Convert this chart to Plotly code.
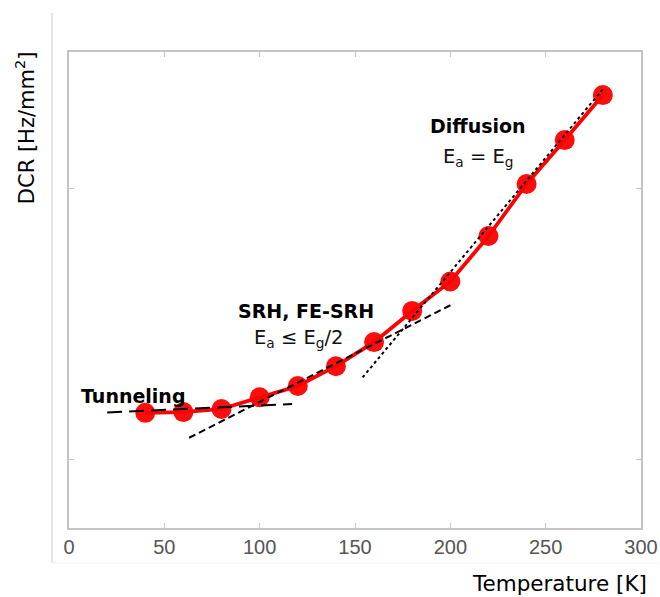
import plotly.graph_objects as go

# Data (y axis is logarithmic, unlabelled; ticks at 1 and 10)
temperature = [40, 60, 80, 100, 120, 140, 160, 180, 200, 220, 240, 260, 280]
dcr = [1.48, 1.49, 1.53, 1.69, 1.86, 2.20, 2.70, 3.52, 4.52, 6.65, 10.35, 15.03, 22.03]

tunnel_fit_x = [20, 117]
tunnel_fit_y = [1.486, 1.596]
srh_fit_x = [63, 202]
srh_fit_y = [1.198, 3.753]
diff_fit_x = [154, 280.5]
diff_fit_y = [2.002, 23.39]

x_ticks = [0, 50, 100, 150, 200, 250, 300]
y_ticks = [1, 10]

GRAY = "#c4c4c4"
FONT = "DejaVu Sans"

fig = go.Figure()
fig.add_trace(go.Scatter(
    x=temperature, y=dcr, mode="lines+markers",
    line=dict(color="#ff0000", width=3.8),
    marker=dict(color="#ff0000", size=20, opacity=0.95, line=dict(width=0)),
    showlegend=False))
fig.add_trace(go.Scatter(
    x=tunnel_fit_x, y=tunnel_fit_y, mode="lines",
    line=dict(color="black", width=2, dash="15px,7px"), showlegend=False))
fig.add_trace(go.Scatter(
    x=srh_fit_x, y=srh_fit_y, mode="lines",
    line=dict(color="black", width=2, dash="7px,4px"), showlegend=False))
fig.add_trace(go.Scatter(
    x=diff_fit_x, y=diff_fit_y, mode="lines",
    line=dict(color="black", width=2, dash="dot"), showlegend=False))

ann_font_b = dict(family=FONT, size=19, color="black")
ann_font = dict(family=FONT, size=19.5, color="#111111")
annotations = [
    dict(x=5.2, y=0.232, text="<b>Tunneling</b>", font=ann_font_b),
    dict(x=87.4, y=0.546, text="<b>SRH, FE-SRH</b>", font=ann_font_b),
    dict(x=95.8, y=0.443, text="E<sub>a</sub> ≤ E<sub>g</sub>/2", font=ann_font),
    dict(x=188.4, y=1.229, text="<b>Diffusion</b>", font=ann_font_b),
    dict(x=195.0, y=1.114, text="E<sub>a</sub> = E<sub>g</sub>", font=ann_font),
]
for a in annotations:
    a.update(xref="x", yref="y", xanchor="left", yanchor="middle", showarrow=False)

annotations.append(dict(xref="paper", yref="paper", x=1.0145, y=-0.1176,
                        xanchor="right", yanchor="middle", showarrow=False,
                        text="Temperature [K]", font=dict(family=FONT, size=21.5, color="black")))
annotations.append(dict(xref="paper", yref="paper", x=-0.0769, y=0.840,
                        xanchor="center", yanchor="middle", showarrow=False, textangle=-90,
                        text="DCR [Hz/mm<sup>2</sup>]", font=dict(family=FONT, size=21, color="black")))

fig.update_layout(
    width=660, height=597,
    margin=dict(l=69, r=19, t=52, b=69, autoexpand=False),
    paper_bgcolor="white", plot_bgcolor="white",
    annotations=annotations,
    shapes=[
        dict(type="line", xref="paper", yref="paper", x0=-0.0297, x1=-0.0297,
             y0=-0.0735, y1=1.082, line=dict(color="#d4d4d4", width=1.2)),
        dict(type="line", xref="paper", yref="paper", x0=-0.0297, x1=1.03,
             y0=-0.0735, y1=-0.0735, line=dict(color="#f2f2f2", width=1)),
    ],
)
fig.update_xaxes(
    range=[0, 300], tickvals=x_ticks, ticktext=[str(v) for v in x_ticks],
    showline=True, linecolor=GRAY, linewidth=1.5, mirror="ticks",
    ticks="inside", ticklen=5, tickcolor=GRAY, tickwidth=1.2,
    showgrid=False, zeroline=False, automargin=False,
    tickfont=dict(family="Liberation Sans", size=20, color="#555555"),
)
fig.update_yaxes(
    type="log", range=[-0.2546, 1.502], tickvals=y_ticks, showticklabels=False,
    showline=True, linecolor=GRAY, linewidth=1.5, mirror="ticks",
    ticks="inside", ticklen=5, tickcolor=GRAY, tickwidth=1.2,
    showgrid=False, zeroline=False, automargin=False,
)

fig.write_html("out.html")
